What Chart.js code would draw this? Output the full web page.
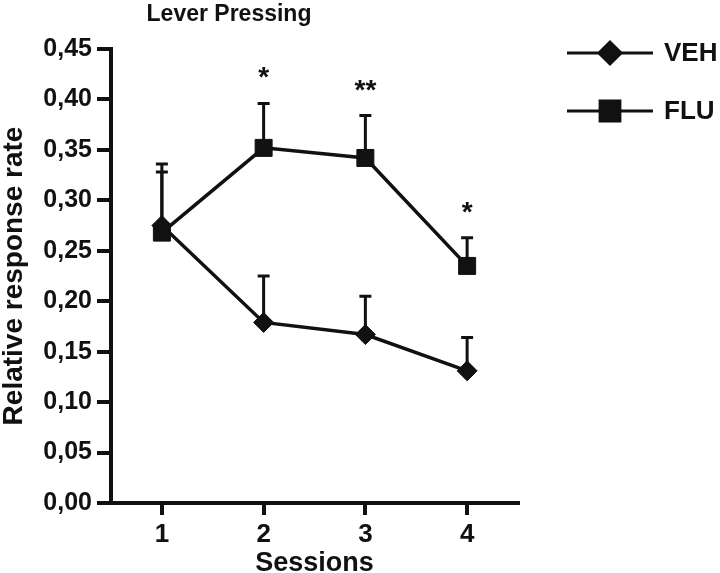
<!DOCTYPE html>
<html lang="en">
<head>
    <meta charset="UTF-8">
    <title>Lever Pressing</title>
    <script src="https://cdn.jsdelivr.net/npm/chart.js"></script>
    <style>
        html, body { margin: 0; padding: 0; background: #fff; }
        #wrap { width: 720px; height: 573px; }
    </style>
</head>
<body>
    <div id="wrap"><canvas id="chart" width="720" height="573"></canvas></div>

    <script>
        // data
        const sessions = ['1', '2', '3', '4'];
        const vehMean = [0.275, 0.179, 0.167, 0.131];
        const vehSem = [0.061, 0.046, 0.038, 0.033];
        const fluMean = [0.268, 0.352, 0.342, 0.235];
        const fluSem = [0.060, 0.044, 0.042, 0.028];
        const fluStars = ['', '*', '**', '*'];
        const yTicks = [0, 0.05, 0.10, 0.15, 0.20, 0.25, 0.30, 0.35, 0.40, 0.45];

        const ink = '#111';
        const fontFamily = '"Liberation Sans", Arial, sans-serif';

        // upward-only error bars, significance stars, title and legend
        const extras = {
            id: 'extras',
            beforeDatasetsDraw(chart) {
                const ctx = chart.ctx;
                const x = chart.scales.x, y = chart.scales.y;
                const sets = [[vehMean, vehSem], [fluMean, fluSem]];
                ctx.save();
                ctx.strokeStyle = ink;
                ctx.lineWidth = 3;
                sets.forEach(([mean, sem]) => {
                    mean.forEach((m, i) => {
                        const px = x.getPixelForValue(i);
                        const y0 = y.getPixelForValue(m);
                        const y1 = y.getPixelForValue(m + sem[i]);
                        ctx.beginPath();
                        ctx.moveTo(px, y0);
                        ctx.lineTo(px, y1);
                        ctx.moveTo(px - 6, y1);
                        ctx.lineTo(px + 6, y1);
                        ctx.stroke();
                    });
                });
                ctx.restore();
            },
            afterDatasetsDraw(chart) {
                const ctx = chart.ctx;
                const x = chart.scales.x, y = chart.scales.y;
                ctx.save();
                ctx.fillStyle = ink;
                ctx.textAlign = 'center';
                ctx.textBaseline = 'alphabetic';

                // stars above FLU error bars
                ctx.font = 'bold 28px ' + fontFamily;
                fluStars.forEach((s, i) => {
                    if (!s) return;
                    const px = x.getPixelForValue(i);
                    const top = y.getPixelForValue(fluMean[i] + fluSem[i]);
                    ctx.fillText(s, px, top - 17);
                });

                // title
                ctx.font = 'bold 23px ' + fontFamily;
                ctx.fillText('Lever Pressing', 229, 21);

                // legend
                const items = [
                    { label: 'VEH', style: 'rectRot', r: 11, yy: 53 },
                    { label: 'FLU', style: 'rect', r: 14, yy: 111 }
                ];
                items.forEach(it => {
                    ctx.strokeStyle = ink;
                    ctx.lineWidth = 3;
                    ctx.beginPath();
                    ctx.moveTo(567, it.yy);
                    ctx.lineTo(653, it.yy);
                    ctx.stroke();
                    Chart.helpers.drawPoint(ctx, { pointStyle: it.style, radius: it.r, borderWidth: 1 }, 610, it.yy);
                    ctx.fill();
                    ctx.font = 'bold 26px ' + fontFamily;
                    ctx.textAlign = 'left';
                    ctx.textBaseline = 'middle';
                    ctx.fillText(it.label, 664, it.yy + 1);
                });
                ctx.restore();
            }
        };

        new Chart(document.getElementById('chart'), {
            type: 'line',
            data: {
                labels: sessions,
                datasets: [
                    {
                        label: 'VEH', data: vehMean,
                        borderColor: ink, backgroundColor: ink, borderWidth: 3.5,
                        pointStyle: 'rectRot', pointRadius: 10, pointBorderWidth: 1
                    },
                    {
                        label: 'FLU', data: fluMean,
                        borderColor: ink, backgroundColor: ink, borderWidth: 3.5,
                        pointStyle: 'rect', pointRadius: 12, pointBorderWidth: 1
                    }
                ]
            },
            options: {
                responsive: false,
                animation: false,
                layout: { padding: { left: 0, right: 202, top: 49, bottom: 0 } },
                plugins: { legend: { display: false }, tooltip: { enabled: false } },
                scales: {
                    x: {
                        type: 'category',
                        offset: true,
                        afterFit: s => { s.height = 70; },
                        border: { color: ink, width: 4 },
                        grid: { drawOnChartArea: false, offset: false, color: ink, lineWidth: 4, tickLength: 12 },
                        ticks: { color: ink, padding: 4, font: { family: fontFamily, size: 26, weight: 'bold' } },
                        title: {
                            display: true, text: 'Sessions', color: ink, padding: 0,
                            font: { family: fontFamily, size: 27, weight: 'bold', lineHeight: 0.7 }
                        }
                    },
                    y: {
                        min: 0, max: 0.45,
                        afterFit: s => { s.width = 111; },
                        afterBuildTicks: s => { s.ticks = yTicks.map(v => ({ value: v })); },
                        border: { color: ink, width: 4 },
                        grid: { drawOnChartArea: false, color: ink, lineWidth: 4, tickLength: 14 },
                        ticks: {
                            color: ink, padding: 5,
                            font: { family: fontFamily, size: 25, weight: 'bold' },
                            callback: v => v.toFixed(2).replace('.', ',')
                        },
                        title: {
                            display: true, text: 'Relative response rate', color: ink, padding: 0,
                            font: { family: fontFamily, size: 28, weight: 'bold', lineHeight: 1 }
                        }
                    }
                }
            },
            plugins: [extras]
        });
    </script>
</body>
</html>
